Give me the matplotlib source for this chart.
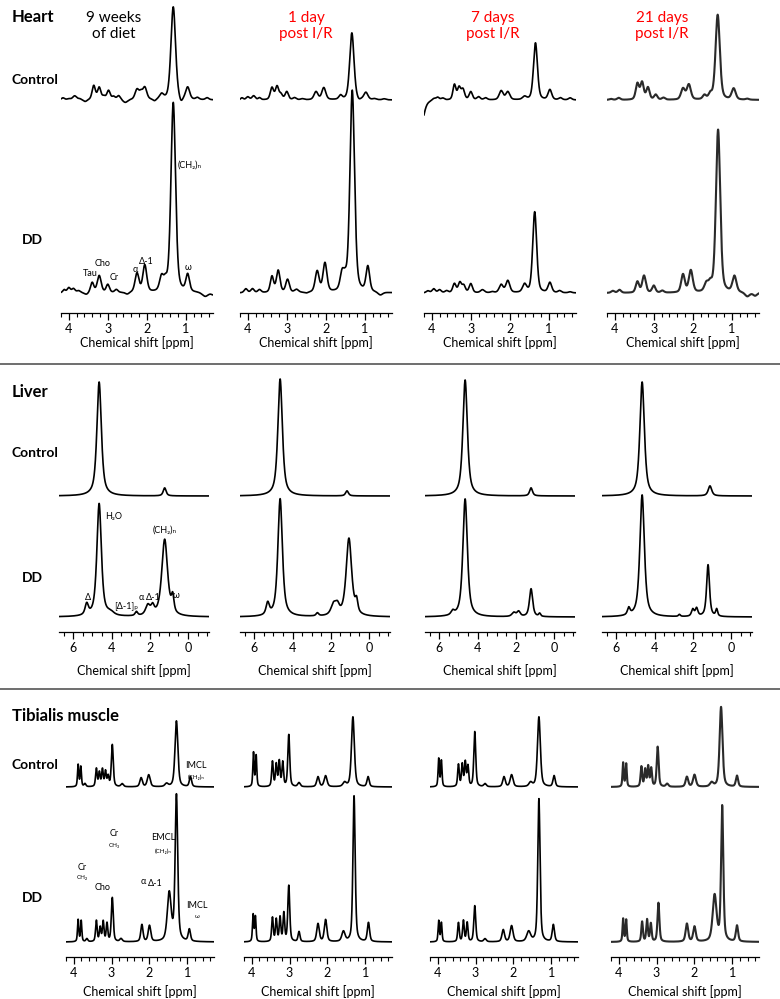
import numpy as np
import matplotlib.pyplot as plt
from matplotlib.ticker import MultipleLocator

plt.rcParams['font.family'] = ['Lato', 'DejaVu Sans']

# peak tables: (ppm, height, half width in ppm)
heart_ctrl = [
    [(4.15, 2, .05), (4.00, 1, .05), (3.85, 4, .06), (3.72, 1, .05), (3.58, -2, .06), (3.36, 14, .05),
     (3.22, 12, .05), (3.10, 3, .05), (2.98, 9, .05), (2.85, 3, .05), (2.72, 4, .05), (2.55, -3, .07),
     (2.25, 10, .06), (2.15, 6, .05), (2.05, 12, .06), (1.80, -2, .05), (1.62, 5, .06), (1.32, 93, .07),
     (1.12, -5, .05), (0.95, 12, .06), (0.70, 2, .05), (0.45, 2, .05)],
    [(4.15, 2, .04), (4.00, 3, .05), (3.85, 4, .05), (3.70, 2, .04), (3.38, 12, .05), (3.25, 13, .05),
     (3.15, 5, .05), (3.00, 8, .05), (2.80, 2, .05), (2.60, 1, .05), (2.25, 8, .06), (2.05, 12, .06),
     (1.62, 4, .05), (1.33, 67, .065), (1.15, -2, .05), (0.97, 7, .06), (0.75, 1, .05), (0.50, 1, .05)],
    [(4.30, -30, .10), (3.95, 2, .05), (3.85, 3, .05), (3.72, 2, .05), (3.42, 15, .045), (3.30, 12, .05),
     (3.20, 10, .05), (3.00, 8, .05), (2.80, 3, .05), (2.62, 2, .05), (2.22, 9, .06), (2.05, 8, .06),
     (1.62, 3, .06), (1.34, 57, .06), (0.97, 10, .055), (0.70, 2, .05), (0.45, 2, .05)],
    [(4.10, 1, .05), (3.90, 2, .05), (3.42, 16, .05), (3.30, 17, .05), (3.15, 12, .05), (2.95, 5, .05),
     (2.75, 2, .05), (2.25, 11, .06), (2.10, 15, .06), (1.70, 4, .05), (1.55, 5, .05), (1.36, 85, .065),
     (0.95, 11, .06), (0.60, 1, .05)],
]
heart_dd = [
    [(4.12, 3, .04), (4.00, 5, .05), (3.88, 4, .05), (3.75, 2, .05), (3.55, -2, .06), (3.40, 10, .05),
     (3.22, 17, .06), (3.00, 8, .05), (2.78, 3, .05), (2.50, -2, .06), (2.25, 19, .06), (2.05, 27, .06),
     (1.62, 14, .06), (1.52, 8, .05), (1.32, 190, .07), (0.95, 17, .055), (0.50, -4, .09), (0.30, -2, .05)],
    [(4.05, 4, .05), (3.88, 4, .05), (3.70, 3, .05), (3.38, 16, .05), (3.22, 22, .055), (2.98, 13, .055),
     (2.75, 3, .06), (2.50, -1, .06), (2.22, 21, .06), (2.02, 29, .06), (1.58, 17, .06), (1.50, 8, .05),
     (1.32, 202, .07), (0.92, 25, .055), (0.60, -3, .07)],
    [(4.10, 2, .05), (3.95, 4, .05), (3.80, 3, .05), (3.62, 2, .05), (3.42, 9, .05), (3.28, 10, .05),
     (3.18, 7, .05), (3.00, 9, .05), (2.70, 3, .06), (2.45, 1, .05), (2.22, 8, .06), (2.05, 12, .06),
     (1.62, 8, .06), (1.36, 81, .06), (0.97, 10, .055), (0.72, 2, .05), (0.45, 1, .05)],
    [(4.05, 2, .05), (3.88, 3, .05), (3.42, 11, .05), (3.25, 17, .055), (3.00, 7, .05), (2.78, 2, .05),
     (2.25, 18, .055), (2.05, 22, .06), (1.65, 8, .06), (1.55, 7, .05), (1.35, 163, .065), (0.93, 16, .06),
     (0.60, -4, .07), (0.40, -3, .06)],
]
liver_ctrl = [
    [(4.65, 114, .14), (1.22, 8, .09)],
    [(4.65, 117, .14), (1.15, 5, .09)],
    [(4.65, 116, .14), (1.20, 8, .09)],
    [(4.65, 114, .14), (1.10, 10, .11)],
]
liver_dd = [
    [(5.30, 11, .10), (4.65, 113, .14), (4.05, 3, .20), (2.70, 4, .08), (2.10, 10, .14), (1.85, 8, .10),
     (1.22, 77, .18), (0.80, 16, .08)],
    [(5.30, 12, .10), (4.65, 118, .14), (2.70, 3, .08), (1.85, 11, .16), (1.65, 8, .12), (1.05, 78, .17),
     (0.65, 12, .08)],
    [(5.30, 4, .10), (4.65, 118, .14), (2.10, 4, .12), (1.85, 5, .10), (1.20, 28, .10), (0.75, 3, .06)],
    [(5.35, 7, .08), (4.65, 122, .14), (2.70, 2, .06), (2.00, 7, .08), (1.80, 8, .08), (1.20, 52, .09),
     (0.75, 7, .06)],
]
tib_ctrl = [
    [(3.88, 22, .02), (3.81, 20, .02), (3.70, 3, .03), (3.40, 18, .025), (3.32, 14, .025), (3.24, 17, .025),
     (3.16, 15, .025), (3.09, 10, .025), (2.98, 42, .03), (2.72, 3, .04), (2.22, 9, .04), (2.02, 12, .045),
     (1.55, 3, .05), (1.29, 66, .045), (0.92, 10, .035)],
    [(3.95, 34, .02), (3.88, 31, .02), (3.45, 25, .025), (3.35, 22, .025), (3.27, 25, .025), (3.18, 24, .025),
     (3.02, 52, .03), (2.75, 4, .04), (2.25, 10, .04), (2.05, 11, .045), (1.55, 4, .05), (1.33, 70, .045),
     (0.93, 10, .035)],
    [(3.97, 28, .02), (3.90, 26, .02), (3.45, 22, .025), (3.35, 22, .025), (3.27, 24, .025), (3.20, 20, .025),
     (3.02, 55, .03), (2.75, 3, .04), (2.25, 10, .04), (2.05, 12, .045), (1.55, 4, .05), (1.33, 70, .045),
     (0.93, 11, .035)],
    [(3.88, 24, .02), (3.80, 23, .02), (3.40, 20, .025), (3.30, 17, .025), (3.22, 20, .025), (3.14, 18, .025),
     (2.97, 40, .03), (2.72, 3, .04), (2.20, 10, .04), (2.00, 12, .045), (1.55, 4, .05), (1.30, 80, .045),
     (0.88, 11, .035)],
]
tib_dd = [
    [(3.88, 22, .02), (3.80, 21, .02), (3.65, 3, .03), (3.40, 21, .025), (3.30, 14, .025), (3.22, 20, .025),
     (3.12, 18, .025), (2.98, 44, .03), (2.75, 3, .04), (2.20, 17, .035), (2.00, 16, .04), (1.48, 48, .06),
     (1.29, 146, .04), (0.95, 12, .035)],
    [(3.96, 27, .02), (3.90, 25, .02), (3.45, 24, .025), (3.35, 22, .025), (3.25, 24, .025), (3.15, 28, .025),
     (3.02, 56, .03), (2.75, 10, .03), (2.25, 18, .04), (2.05, 22, .04), (1.58, 10, .05), (1.30, 146, .035),
     (0.92, 19, .035)],
    [(3.97, 21, .02), (3.90, 19, .02), (3.45, 19, .025), (3.32, 21, .025), (3.22, 19, .025), (3.02, 36, .03),
     (2.75, 3, .04), (2.27, 12, .04), (2.05, 16, .045), (1.60, 10, .06), (1.33, 143, .035), (0.95, 17, .035)],
    [(3.88, 23, .02), (3.80, 22, .02), (3.38, 20, .025), (3.25, 22, .025), (3.15, 18, .025), (2.95, 39, .03),
     (2.20, 18, .04), (2.00, 15, .04), (1.47, 46, .06), (1.27, 135, .035), (0.88, 16, .035)],
]

col_titles = ['9 weeks\nof diet', '1 day\npost I/R', '7 days\npost I/R', '21 days\npost I/R']
title_colors = ['black', 'red', 'red', 'red']
section_names = ['Heart', 'Liver', 'Tibialis muscle']
row_names = ['Control', 'DD']

W, H = 780, 999


def spectrum(x, peaks, eta):
    y = np.zeros_like(x)
    for c, h, w in peaks:
        lor = w ** 2 / ((x - c) ** 2 + w ** 2)
        gau = np.exp(-np.log(2) * (x - c) ** 2 / w ** 2)
        y += h * (eta * lor + (1 - eta) * gau)
    return y


def fig_txt(x, y, s, **kw):
    fig.text(x / W, 1 - y / H, s, **kw)


fig = plt.figure(figsize=(W / 100, H / 100), dpi=100)

# layout in pixels: top, axis line, column lefts, width, xlim, tick steps, baselines
sections = [
    dict(top=0, bottom=313, lefts=[61, 240, 424, 607], width=152, xlim=(4.2, 0.3), major=1, minor=0.2,
         base=(100, 293), ctrl=heart_ctrl, dd=heart_dd, eta=0.4, title_y=17, row_y=(80, 240), xlab_y=343),
    dict(top=370, bottom=632, lefts=[59, 240, 425, 602], width=150, xlim=(6.75, -1.1), major=2, minor=0.5,
         base=(496, 617), ctrl=liver_ctrl, dd=liver_dd, eta=0.7, title_y=392, row_y=(453, 578), xlab_y=671),
    dict(top=697, bottom=957, lefts=[66, 244, 430, 611], width=148, xlim=(4.2, 0.3), major=1, minor=0.2,
         base=(787, 942), ctrl=tib_ctrl, dd=tib_dd, eta=0.5, title_y=716, row_y=(765, 898), xlab_y=992),
]

for si, sec in enumerate(sections):
    h = sec['bottom'] - sec['top']
    for ci, left in enumerate(sec['lefts']):
        ax = fig.add_axes([left / W, 1 - sec['bottom'] / H, sec['width'] / W, h / H])
        x = np.linspace(sec['xlim'][0], sec['xlim'][1], 2000)
        lw = 1.5 if ci == 3 and si != 1 else 1.2
        col = '#2a2a2a' if ci == 3 and si != 1 else 'black'
        for peaks, base in ((sec['ctrl'][ci], sec['base'][0]), (sec['dd'][ci], sec['base'][1])):
            ax.plot(x, spectrum(x, peaks, sec['eta']) + (sec['bottom'] - base), color=col, lw=lw)
        ax.set_xlim(sec['xlim'])
        ax.set_ylim(0, h)
        for s in ['top', 'left', 'right']:
            ax.spines[s].set_visible(False)
        ax.spines['bottom'].set_linewidth(0.9)
        ax.patch.set_visible(False)
        ax.set_yticks([])
        ax.xaxis.set_major_locator(MultipleLocator(sec['major']))
        ax.xaxis.set_minor_locator(MultipleLocator(sec['minor']))
        ax.tick_params(axis='x', which='major', length=5, width=0.9, labelsize=9, pad=2)
        ax.tick_params(axis='x', which='minor', length=3, width=0.8)
        ax.set_xticklabels([f'{t:g}' for t in ax.get_xticks()])
        fig_txt(left + sec['width'] / 2, sec['xlab_y'], 'Chemical shift [ppm]', ha='center', va='center',
                fontsize=9)
    fig_txt(12, sec['title_y'], section_names[si], ha='left', va='center', fontsize=12, fontweight='bold')
    fig_txt(12, sec['row_y'][0], row_names[0], ha='left', va='center', fontsize=10, fontweight='bold')
    fig_txt(22, sec['row_y'][1], row_names[1], ha='left', va='center', fontsize=10, fontweight='bold')

# column titles
for (tx, c), t in zip(zip([114, 306, 493, 662], title_colors), col_titles):
    fig_txt(tx, 26, t, ha='center', va='center', fontsize=11, color=c, linespacing=1.2)

# separators
for yy in (364, 689):
    fig.add_artist(plt.Line2D([0, 1], [1 - yy / H, 1 - yy / H], color='#555555', lw=1.2))

# peak assignments
small = dict(ha='center', va='center', fontsize=6.5)
tiny = dict(ha='center', va='center', fontsize=4.5)
for tx, ty, s in [(190, 165, '(CH₂)ₙ'), (90, 274, 'Tau'), (103, 263, 'Cho'), (114, 277, 'Cr'),
                  (135, 270, 'α'), (146, 262, 'Δ-1'), (188, 268, 'ω'),
                  (114, 517, 'H₂O'), (165, 530, '(CH₂)ₙ'), (88, 597, 'Δ'), (126, 606, '[Δ-1]ₚ'),
                  (141, 598, 'α'), (153, 597, 'Δ-1'), (176, 596, 'ω'),
                  (82, 867, 'Cr'), (103, 888, 'Cho'), (114, 834, 'Cr'), (143, 881, 'α'), (155, 883, 'Δ-1'),
                  (163, 838, 'EMCL'), (196, 765, 'IMCL'), (197, 905, 'IMCL')]:
    fig_txt(tx, ty, s, **small)
for tx, ty, s in [(82, 878, 'CH₂'), (114, 846, 'CH₃'), (163, 851, '(CH₂)ₙ'), (196, 777, '(CH₂)ₙ'),
                  (197, 917, 'ω')]:
    fig_txt(tx, ty, s, **tiny)

fig.savefig('out.png', dpi=100)
